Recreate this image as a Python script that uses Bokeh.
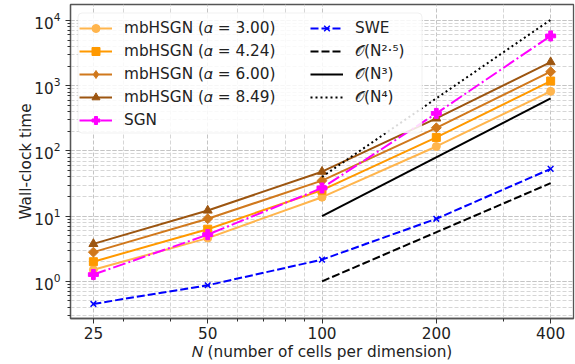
import numpy as np
from bokeh.plotting import figure
from bokeh.models import (FixedTicker, LogTicker, PrintfTickFormatter, Legend,
                          LegendItem, BoxAnnotation, Range1d)
from bokeh.embed import file_html
from bokeh.resources import INLINE

# ---- data ----
N = [25, 50, 100, 200, 400]
t_a300 = [1.5, 4.6, 19.5, 117, 820]
t_a424 = [2.0, 6.3, 25, 161, 1180]
t_a600 = [2.8, 9.1, 35, 226, 1640]
t_a849 = [3.75, 12.2, 48, 315, 2300]
t_sgn = [1.27, 5.2, 27, 376, 5800]
t_swe = [0.45, 0.87, 2.15, 9.1, 53]

N_ref = [100, 400]
ref_25 = [1.0, 32.0]
ref_3 = [10.0, 640.0]
ref_4 = [40.0, 10240.0]

x_ticks = [25, 50, 100, 200, 400]
x_minor = [20, 30, 40, 60, 70, 80, 90, 300]

labels_left = ["mbHSGN (𝛼 = 3.00)", "mbHSGN (𝛼 = 4.24)", "mbHSGN (𝛼 = 6.00)",
               "mbHSGN (𝛼 = 8.49)", "SGN"]
labels_right = ["SWE", "𝒪(N²·⁵)", "𝒪(N³)", "𝒪(N⁴)"]

FONT = "DejaVu Sans"
FS = "15.3px"
c300, c424, c600, c849 = "#ffb54d", "#ff9900", "#d0781c", "#9c5510"
c_sgn, c_swe = "#ff00ff", "#0000ff"

p = figure(width=575, height=364, x_axis_type="log", y_axis_type="log",
           x_range=Range1d(21.76, 459.5), y_range=Range1d(0.269, 17600),
           output_backend="svg", toolbar_location=None,
           min_border_left=70, min_border_right=2, min_border_top=4,
           min_border_bottom=46)
p.background_fill_color = "white"
p.border_fill_color = "white"
p.outline_line_color = "#555555"
p.outline_line_width = 1.3

# axes
p.xaxis.ticker = FixedTicker(ticks=x_ticks, minor_ticks=x_minor)
p.xaxis.formatter = PrintfTickFormatter(format="%d")
p.yaxis.ticker = LogTicker(num_minor_ticks=10)
for ax in (p.xaxis[0], p.yaxis[0]):
    ax.axis_line_color = "#555555"
    ax.axis_line_width = 1.3
    ax.major_tick_line_color = "#333333"
    ax.minor_tick_line_color = "#333333"
    ax.major_tick_out = 5
    ax.major_tick_in = 0
    ax.minor_tick_out = 3
    ax.minor_tick_in = 0
    ax.major_label_text_font = FONT
    ax.major_label_text_font_size = FS
    ax.major_label_text_color = "#222222"
    ax.axis_label_text_font = FONT
    ax.axis_label_text_font_size = FS
    ax.axis_label_text_font_style = "normal"
    ax.axis_label_text_color = "#222222"
p.xaxis.axis_label = "𝑁 (number of cells per dimension)"
p.yaxis.axis_label = "Wall-clock time"
p.xaxis.major_label_standoff = 3
p.xaxis.axis_label_standoff = 1
p.yaxis.major_label_standoff = 5
p.yaxis.axis_label_standoff = -4

# grids
for g in (p.xgrid[0], p.ygrid[0]):
    g.grid_line_color = "#c4c4c4"
    g.grid_line_dash = "4 2"
    g.grid_line_width = 1
    g.minor_grid_line_color = "#d6d6d6"
    g.minor_grid_line_dash = "4 2"
    g.minor_grid_line_width = 1

# series
r = []
r.append([p.line(N, t_a300, line_color=c300, line_width=2),
          p.scatter(N, t_a300, marker="circle", size=8, color=c300)])
r.append([p.line(N, t_a424, line_color=c424, line_width=2),
          p.scatter(N, t_a424, marker="square", size=8, color=c424)])
l600 = p.line(N, t_a600, line_color=c600, line_width=2)
p.scatter(N, t_a600, marker="square", size=7, angle=np.pi / 4, color=c600)
# legend-only diamond (legend swatches ignore marker rotation)
d600 = p.scatter([np.nan], [np.nan], marker="diamond", size=12, color=c600)
r.append([l600, d600])
r.append([p.line(N, t_a849, line_color=c849, line_width=2),
          p.scatter(N, t_a849, marker="triangle", size=9, color=c849)])
r.append([p.line(N, t_sgn, line_color=c_sgn, line_width=2, line_dash="13 3 2 3"),
          p.scatter(N, t_sgn, marker="plus", size=10, color=c_sgn)])
q = []
q.append([p.line(N, t_swe, line_color=c_swe, line_width=2, line_dash="8 3"),
          p.scatter(N, t_swe, marker="x", size=8, line_color=c_swe, line_width=1.5)])
q.append([p.line(N_ref, ref_25, line_color="black", line_width=2, line_dash="8 3")])
q.append([p.line(N_ref, ref_3, line_color="black", line_width=2)])
q.append([p.line(N_ref, ref_4, line_color="black", line_width=2, line_dash="2 3")])

# legend frame
box = BoxAnnotation(left=7.5, right=351.5, top=305.5, bottom=185.5,
                    left_units="screen", right_units="screen",
                    top_units="screen", bottom_units="screen",
                    fill_color="white", fill_alpha=0.85,
                    line_color="#cccccc", line_width=1, border_radius=4)
p.add_layout(box)

def make_legend(items, labels, loc):
    lg = Legend(items=[LegendItem(label=l, renderers=rr) for l, rr in zip(labels, items)],
                location=loc, margin=0, padding=4, spacing=3,
                glyph_width=33, glyph_height=20, label_standoff=12,
                label_text_font=FONT, label_text_font_size=FS,
                label_text_color="#222222",
                border_line_color=None, background_fill_alpha=0)
    return lg

p.add_layout(make_legend(r, labels_left, (9, 188)))
p.add_layout(make_legend(q, labels_right, (240, 211)))

open("out.html", "w").write(file_html(p, INLINE))
